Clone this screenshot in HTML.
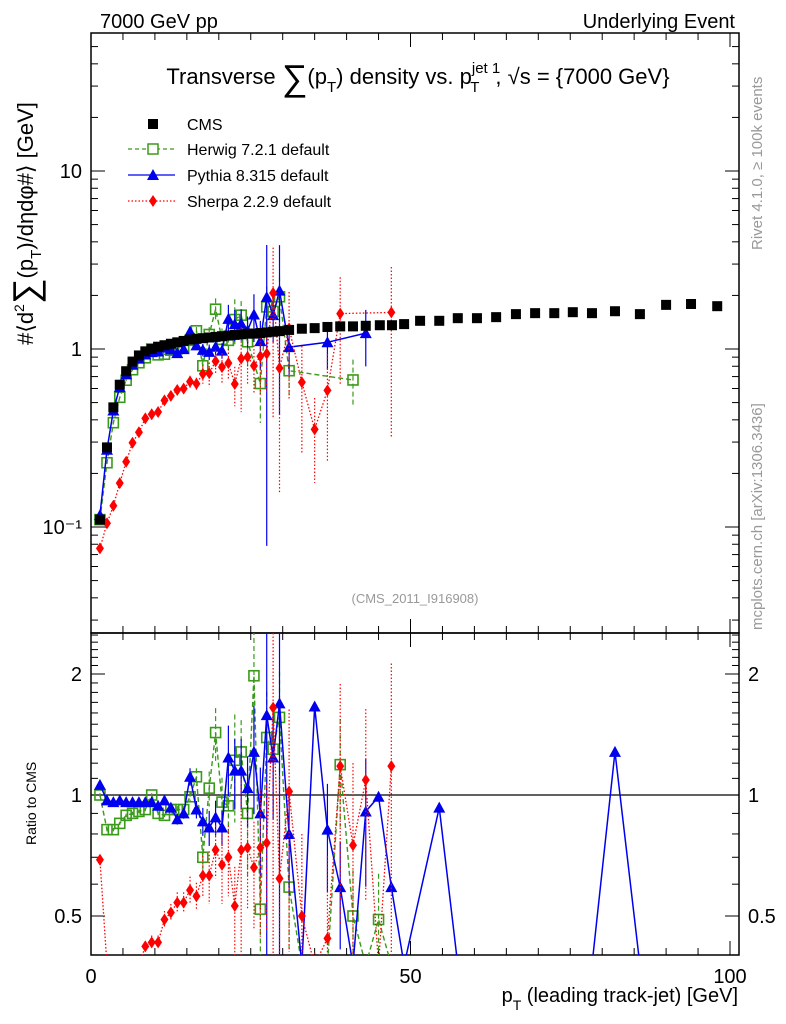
<!DOCTYPE html>
<html><head><meta charset="utf-8"><style>
html,body{margin:0;padding:0;background:#fff;overflow:hidden;}
svg{display:block;font-family:"Liberation Sans",Arial,sans-serif;}
</style></head><body>
<svg id="c" width="786" height="1024" viewBox="0 0 786 1024" xmlns="http://www.w3.org/2000/svg">
<defs>
<clipPath id="clipMain"><rect x="91" y="33" width="648" height="600"/></clipPath>
<clipPath id="clipRatio"><rect x="91" y="633" width="648" height="322"/></clipPath>
</defs>
<rect x="0" y="0" width="786" height="1024" fill="#fff"/>
<text x="100" y="28" font-size="20">7000 GeV pp</text>
<text x="735" y="28" font-size="20" text-anchor="end">Underlying Event</text>
<text x="418" y="84" font-size="22" text-anchor="middle">Transverse <tspan font-size="36" dy="6">∑</tspan><tspan dy="-6">(p</tspan><tspan font-size="15" dy="8">T</tspan><tspan dy="-8">) density vs. p</tspan><tspan font-size="15" dy="-11">jet 1</tspan><tspan dx="-30" font-size="15" dy="19">T</tspan><tspan dx="16" dy="-8">, √s = {7000 GeV}</tspan></text>
<text x="415" y="603" font-size="13" fill="#999" text-anchor="middle">(CMS_2011_I916908)</text>
<text transform="translate(762,250) rotate(-90)" font-size="15" fill="#999">Rivet 4.1.0, ≥ 100k events</text>
<text transform="translate(762,630) rotate(-90)" font-size="15" fill="#999">mcplots.cern.ch [arXiv:1306.3436]</text>
<text transform="translate(33,345) rotate(-90)" font-size="22">#⟨d<tspan font-size="14" dy="-9">2</tspan><tspan font-size="36" dy="14">∑</tspan><tspan dy="-5">(p</tspan><tspan font-size="15" dy="8">T</tspan><tspan dy="-8">)/dηdφ#⟩ [GeV]</tspan></text>
<text transform="translate(36,845) rotate(-90)" font-size="14">Ratio to CMS</text>
<text x="738" y="1002" font-size="20" text-anchor="end">p<tspan font-size="14" dy="8">T</tspan><tspan dy="-8"> (leading track-jet) [GeV]</tspan></text>
<g id="legend">
<g><rect x="148" y="119" width="10" height="10" fill="#000"/><text x="187" y="130" font-size="16">CMS</text></g>
<g><line x1="128" y1="149" x2="175" y2="149" stroke="#3a9a1a" stroke-dasharray="4,3" stroke-width="1.2"/><rect x="148" y="144" width="10" height="10" fill="#fff" stroke="#3a9a1a" stroke-width="1.5"/><text x="187" y="155" font-size="16">Herwig 7.2.1 default</text></g>
<g><line x1="128" y1="175" x2="175" y2="175" stroke="#0000ee" stroke-width="1.3"/><path d="M153,169 L159,180 L147,180 Z" fill="#0000ee"/><text x="187" y="181" font-size="16">Pythia 8.315 default</text></g>
<g><line x1="128" y1="201" x2="175" y2="201" stroke="#ff0000" stroke-dasharray="1.5,2" stroke-width="1.3"/><path d="M153,195 L157,201 L153,207 L149,201 Z" fill="#ff0000"/><text x="187" y="207" font-size="16">Sherpa 2.2.9 default</text></g>
</g>
<g id="axes"></g>
<g id="mainMarks" clip-path="url(#clipMain)"></g>
<g id="ratioMarks" clip-path="url(#clipRatio)"></g>
</svg>
<script>
const cmsX=[1.4,2.5,3.5,4.5,5.5,6.5,7.5,8.5,9.5,10.5,11.5,12.5,13.5,14.5,15.5,16.5,17.5,18.5,19.5,20.5,21.5,22.5,23.5,24.5,25.5,26.5,27.5,28.5,29.5,31,33,35,37,39,41,43,45.2,47.1,49,51.5,54.5,57.4,60.4,63.4,66.5,69.5,72.5,75.4,78.4,82,85.9,90,93.9,98];
const cmsY=[0.11,0.28,0.47,0.63,0.75,0.85,0.92,0.97,1.0,1.03,1.05,1.07,1.09,1.11,1.13,1.14,1.15,1.16,1.17,1.18,1.19,1.2,1.21,1.22,1.22,1.23,1.24,1.25,1.26,1.28,1.3,1.31,1.33,1.34,1.34,1.35,1.36,1.36,1.38,1.44,1.44,1.49,1.49,1.51,1.57,1.59,1.59,1.61,1.59,1.63,1.57,1.77,1.79,1.74];
const modelX=[1.4,2.5,3.5,4.5,5.5,6.5,7.5,8.5,9.5,10.5,11.5,12.5,13.5,14.5,15.5,16.5,17.5,18.5,19.5,20.5,21.5,22.5,23.5,24.5,25.5,26.5,27.5,28.5,29.5,31,33,35,37,39,41,43,45,47];
const herwigR=[1.0,0.82,0.82,0.85,0.89,0.9,0.91,0.92,1.0,0.9,0.89,0.92,0.92,0.92,0.99,1.11,0.7,1.04,1.43,0.96,0.94,1.22,1.28,0.9,1.98,0.52,1.39,1.3,1.56,0.59,0,0,0,1.19,0.5,0,0.49,0];
const herwigE=[0.01,0.01,0.01,0.01,0.01,0.01,0.01,0.01,0.01,0.01,0.01,0.01,0.02,0.02,0.03,0.05,0.1,0.1,0.15,0.15,0.15,0.3,0.2,0.3,0.3,0.4,0.3,0.3,0.3,0.3,0.4,0.4,0.4,0.3,0.3,0.4,0.3,0.4];
const herwigInMain=[1,1,1,1,1,1,1,1,1,1,1,1,1,1,1,1,1,1,1,1,1,1,1,1,0,1,1,1,1,1,0,0,0,0,1,0,0,0];
const pythiaX=[1.4,2.5,3.5,4.5,5.5,6.5,7.5,8.5,9.5,10.5,11.5,12.5,13.5,14.5,15.5,16.5,17.5,18.5,19.5,20.5,21.5,22.5,23.5,24.5,25.5,26.5,27.5,28.5,29.5,31,33,35,37,39,41,43,45,47,49,54.5,57.4,78.4,82,85.9];
const pythiaR=[1.06,0.97,0.96,0.97,0.96,0.96,0.96,0.96,0.96,0.94,0.97,0.93,0.87,0.9,1.11,0.92,0.86,0.83,0.88,0.83,1.24,1.15,1.15,1.04,1.28,0.9,1.58,1.24,1.69,0.8,0,1.66,0.82,0.59,0,0.91,0.99,0.59,0,0.93,0,0,1.28,0];
const pythiaE=[0.01,0.01,0.01,0.01,0.01,0.01,0.01,0.01,0.01,0.01,0.02,0.02,0.03,0.03,0.05,0.05,0.08,0.1,0.1,0.1,0.2,0.2,0.2,0.2,0.3,0.3,0.96,0.3,0.8,0.3,0,0,0.3,0.3,0,0.35,0,0,0,0,0,0,0,0];
const pythiaInMain=[1,1,1,1,1,1,1,1,1,1,1,1,1,1,1,1,1,1,1,1,1,1,1,1,1,1,1,1,1,1,0,0,1,0,0,1,0,0,0,0,0,0,0,0];
const sherpaR=[0.69,0.375,0.28,0.28,0.31,0.35,0.37,0.42,0.43,0.43,0.49,0.51,0.54,0.54,0.58,0.56,0.63,0.63,0.73,0.67,0.7,0.53,0.73,0.74,0.66,0.74,0.76,1.65,0.62,1.02,0.5,0.27,0.44,1.18,0.75,1.09,0,1.18];
const sherpaE=[0.02,0.02,0.02,0.02,0.03,0.03,0.03,0.03,0.04,0.04,0.05,0.05,0.06,0.06,0.08,0.08,0.12,0.15,0.15,0.2,0.2,0.25,0.5,0.3,0.3,0.4,0.4,0.8,0.8,0.6,0.6,0.5,0.6,0.6,0.6,0.5,0,0.8];
const sherpaInMain=[1,1,1,1,1,1,1,1,1,1,1,1,1,1,1,1,1,1,1,1,1,1,1,1,1,1,1,1,1,1,1,1,1,1,0,0,0,1];
const xTicks=[0,50,100];
const mainTickLabels=["10⁻¹","1","10"];
const mainTickVals=[0.1,1,10];
const ratioTickVals=[0.5,1,2];
const ratioTickLabels=["0.5","1","2"];

const NS="http://www.w3.org/2000/svg";
const L=91,R=739,T=33,MB=633,RB=955;
const xs=v=>L+(v)*6.39;
const ym=v=>349-178*Math.log10(v);
const yr=v=>v<=0?RB+10:Math.min(RB+10,795-121*Math.log2(v));
function mk(tag,attrs,parent){const e=document.createElementNS(NS,tag);for(const k in attrs)e.setAttribute(k,attrs[k]);parent.appendChild(e);return e;}
const axes=document.getElementById('axes');
const gm=document.getElementById('mainMarks');
const gr=document.getElementById('ratioMarks');

let f1=mk('rect',{x:L,y:T,width:R-L,height:MB-T,fill:'none',stroke:'#000','stroke-width':1.5},axes);


let f2=mk('rect',{x:L,y:MB,width:R-L,height:RB-MB,fill:'none',stroke:'#000','stroke-width':1.5},axes);



for(let v=0;v<=100;v+=5){
  const len=(v%50===0)?14:7;const x=xs(v);
  for(const [yb,dir] of [[RB,-1],[MB,-1],[T,1],[MB,1]]){
    const t=mk('line',{x1:x,x2:x,y1:yb,y2:yb+dir*len,stroke:'#000','stroke-width':1},axes);
    
    
  }
}
xTicks.forEach(v=>{const t=mk('text',{x:xs(v),y:983,'font-size':20,'text-anchor':'middle'},axes);t.textContent=String(v);

});

for(let d=-2;d<=1;d++){for(let m=1;m<10;m++){const v=m*Math.pow(10,d);const y=ym(v);if(y<T||y>MB)continue;const len=m===1?14:7;
 for(const [xb,dir] of [[L,1],[R,-1]]){const t=mk('line',{x1:xb,x2:xb+dir*len,y1:y,y2:y,stroke:'#000','stroke-width':1},axes);
 
 }}}
mainTickVals.forEach((v,i)=>{const t=mk('text',{x:82,y:ym(v)+7,'font-size':20,'text-anchor':'end'},axes);t.textContent=mainTickLabels[i];

});

for(let v=0.4;v<=2.6;v+=0.1){const vv=Math.round(v*10)/10;const y=yr(vv);if(y<MB||y>RB)continue;const major=(vv===0.5||vv===1||vv===2);const len=major?14:7;
 for(const [xb,dir] of [[L,1],[R,-1]]){const t=mk('line',{x1:xb,x2:xb+dir*len,y1:y,y2:y,stroke:'#000','stroke-width':1},axes);
 
 }}
ratioTickVals.forEach((v,i)=>{for(const [x,a] of [[82,'end'],[748,'start']]){const t=mk('text',{x:x,y:yr(v)+7,'font-size':20,'text-anchor':a},axes);t.textContent=ratioTickLabels[i];

}});
let one=mk('line',{x1:L,x2:R,y1:yr(1),y2:yr(1),stroke:'#000','stroke-width':1.2},gr);



function cmsAt(x){for(let i=0;i<cmsX.length;i++){if(Math.abs(cmsX[i]-x)<0.3)return cmsY[i];}
 for(let i=0;i<cmsX.length-1;i++){if(x>=cmsX[i]&&x<=cmsX[i+1]){const t=(x-cmsX[i])/(cmsX[i+1]-cmsX[i]);return cmsY[i]+t*(cmsY[i+1]-cmsY[i]);}}return cmsY[cmsX.length-1];}

function marker(g,type,x,y,color,name){
 let e;
 if(type==='sq') e=mk('rect',{x:x-5,y:y-5,width:10,height:10,fill:'#000'},g);
 else if(type==='osq') e=mk('rect',{x:x-5,y:y-5,width:10,height:10,fill:'none',stroke:color,'stroke-width':1.6},g);
 else if(type==='tri') e=mk('path',{d:`M${x},${y-6}L${x+6},${y+5}L${x-6},${y+5}Z`,fill:color},g);
 else e=mk('path',{d:`M${x},${y-6}L${x+4},${y}L${x},${y+6}L${x-4},${y}Z`,fill:color},g);
 
 
}

const series=[
 {name:'herwig',X:modelX,Rv:herwigR,E:herwigE,M:herwigInMain,color:'#3a9a1a',dash:'5,3',type:'osq',w:1.4},
 {name:'pythia',X:pythiaX,Rv:pythiaR,E:pythiaE,M:pythiaInMain,color:'#0000ee',dash:'',type:'tri',w:1.5},
 {name:'sherpa',X:modelX,Rv:sherpaR,E:sherpaE,M:sherpaInMain,color:'#ff0000',dash:'1.5,2',type:'dia',w:1.3}
];

series.forEach(s=>{
 let pts=s.X.map((x,i)=>[xs(x),yr(s.Rv[i])]);
 const pl=mk('polyline',{points:pts.map(p=>p.join(',')).join(' '),fill:'none',stroke:s.color,'stroke-width':s.w},gr);
 if(s.dash)pl.setAttribute('stroke-dasharray',s.dash);
 
 
 s.X.forEach((x,i)=>{const r=s.Rv[i];if(r<=0)return;const e=s.E[i]||0;
   if(e>0){const eb=mk('line',{x1:xs(x),x2:xs(x),y1:yr(r*(1+e)),y2:yr(Math.max(r*(1-e),0.01)),stroke:s.color,'stroke-width':1.2},gr);
   if(s.dash)eb.setAttribute('stroke-dasharray',s.dash);
   
   }
   marker(gr,s.type,xs(x),yr(r),s.color,s.name+'-ratio-point');});
 const mp=[];
 s.X.forEach((x,i)=>{const r=s.Rv[i];if(r<=0||!s.M[i])return;mp.push([x,r*cmsAt(x),s.E[i]||0]);});
 const ml=mk('polyline',{points:mp.map(p=>xs(p[0])+','+ym(p[1])).join(' '),fill:'none',stroke:s.color,'stroke-width':s.w},gm);
 if(s.dash)ml.setAttribute('stroke-dasharray',s.dash);
 
 
 mp.forEach(p=>{const [x,v,e]=p;
   if(e>0){const eb=mk('line',{x1:xs(x),x2:xs(x),y1:ym(v*(1+e)),y2:ym(Math.max(v*(1-e),0.02)),stroke:s.color,'stroke-width':1.2},gm);
   if(s.dash)eb.setAttribute('stroke-dasharray',s.dash);
   
   }
   marker(gm,s.type,xs(x),ym(v),s.color,s.name+'-point');});
});
cmsX.forEach((x,i)=>marker(gm,'sq',xs(x),ym(cmsY[i]),'#000','cms-point'));
</script>
</body></html>
